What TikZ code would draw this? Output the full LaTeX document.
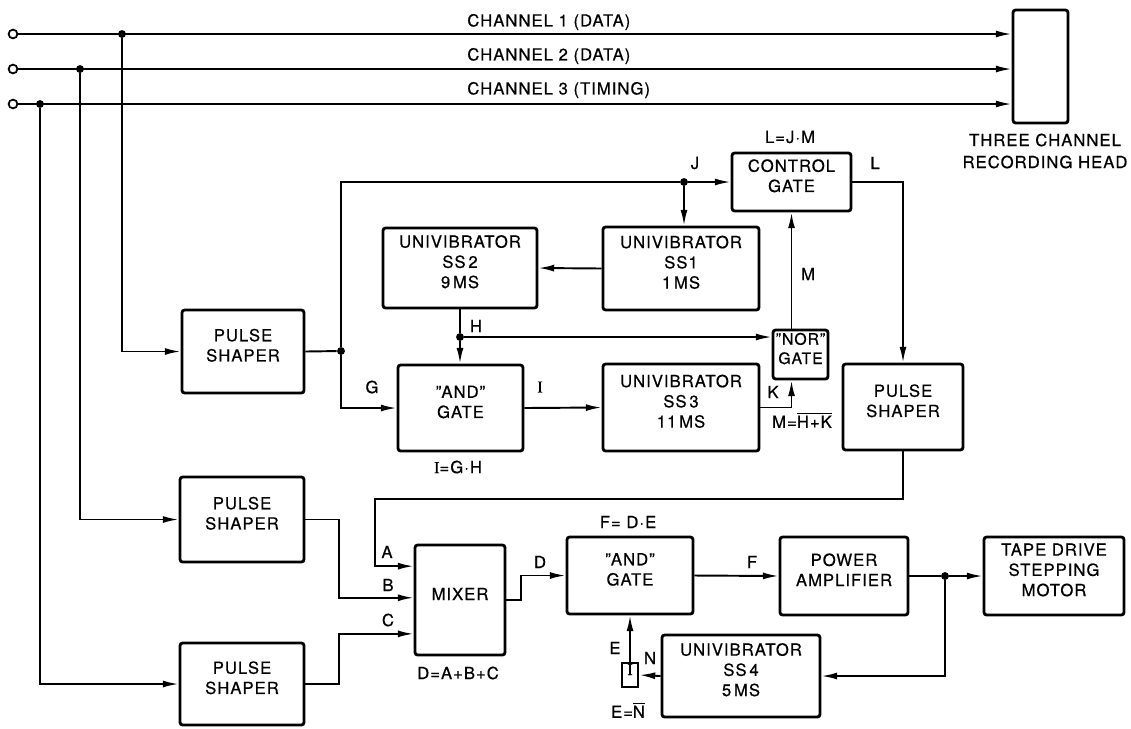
\documentclass[tikz,border=0pt]{standalone}
\usepackage{fontspec}
\setmainfont{TeX Gyre Heros}[LetterSpace=6,FakeBold=0.6]
\newfontfamily\serifI{Liberation Serif}[FakeBold=0.6]
\usetikzlibrary{arrows.meta,fit,calc}
\begin{document}
\begin{tikzpicture}[x=0.02cm,y=-0.02cm,
  font=\fontsize{9.5}{11.5}\selectfont,
  box/.style={draw, line width=1.6pt, rounded corners=1.5pt, inner sep=0pt, align=center},
  wire/.style={line width=1.1pt},
  arr/.style={wire, -{Latex[length=9pt,width=4pt]}},
  dot/.style={circle, fill, inner sep=0pt, minimum size=4.5pt},
  port/.style={circle, draw, line width=1pt, fill=white, inner sep=0pt, minimum size=5pt},
  lbl/.style={inner sep=0pt}]
\useasboundingbox (0,0) rectangle (1131,728);

% ---------- boxes ----------
\node[box, fit={(1013,10)(1068,123)}] (head) {};
\node[box, fit={(182,310)(304,393)}] (ps1) {PULSE\\SHAPER};
\node[box, fit={(180,477)(304,562)}] (ps2) {PULSE\\SHAPER};
\node[box, fit={(180,643)(304,725)}] (ps3) {PULSE\\SHAPER};
\node[box, fit={(843,364)(963,450)}] (ps4) {PULSE\\SHAPER};
\node[box, fit={(383,228)(537,308)}] (ss2) {UNIVIBRATOR\\SS\,2\\9\,MS};
\node[box, fit={(603,227)(759,310)}] (ss1) {UNIVIBRATOR\\SS1\\1\,MS};
\node[box, fit={(732,153)(851,211)}] (cg) {CONTROL\\GATE};
\node[box, fit={(773,330)(828,379)}, font=\fontsize{9}{11}\selectfont] (nor) {"NOR"\\GATE};
\node[box, fit={(398,365)(523,451)}] (and1) {"AND"\\GATE};
\node[box, fit={(603,364)(759,451)}] (ss3) {UNIVIBRATOR\\SS\,3\\11\,MS};
\node[box, fit={(415,545)(505,655)}] (mixer) {MIXER};
\node[box, fit={(567,537)(693,614)}] (and2) {"AND"\\GATE};
\node[box, fit={(780,537)(908,615)}] (pa) {POWER\\AMPLIFIER};
\node[box, fit={(984,537)(1124,615)}] (td) {TAPE DRIVE\\STEPPING\\MOTOR};
\node[box, fit={(662,635)(820,717)}] (ss4) {UNIVIBRATOR\\SS\,4\\5\,MS};
\node[box, line width=1.6pt, rounded corners=0pt, fit={(622,663)(638,687)}] (inv) {\serifI I};

% ---------- ports and junctions ----------
\node[port] (in1) at (13,34) {};
\node[port] (in2) at (13,69) {};
\node[port] (in3) at (13,104) {};
\node[dot] (j1) at (122,34) {};
\node[dot] (j2) at (80,69) {};
\node[dot] (j3) at (40,104) {};
\node[dot] (jg) at (341,351) {};
\node[dot] (jJ) at (684,182) {};
\node[dot] (jH) at (460,337) {};
\node[dot] (jT) at (945,576) {};

\coordinate (mA) at ($(mixer.north west)!0.2!(mixer.south west)$);
\coordinate (mB) at ($(mixer.north west)!0.48!(mixer.south west)$);
\coordinate (mC) at ($(mixer.north west)!0.8!(mixer.south west)$);

% ---------- channels ----------
\draw[arr] (in1.east) -- (in1 -| head.west);
\draw[arr] (in2.east) -- (in2 -| head.west);
\draw[arr] (in3.east) -- (in3 -| head.west);
\draw[arr] (j1) |- (ps1.west);
\draw[arr] (j2) |- (ps2.west);
\draw[arr] (j3) |- (ps3.west);

% ---------- upper logic ----------
\draw[wire] (ps1.east) -- (jg);
\draw[wire] (jg) |- (jJ);
\draw[arr] (jJ) -- (jJ -| cg.west);
\draw[arr] (jJ) -- (jJ |- ss1.north);
\draw[arr] (jg) |- (and1.west);
\draw[arr] (ss1.west) -- (ss2.east);
\draw[wire] (ss2.south) -- (jH);
\draw[arr] (jH) -- (jH |- and1.north);
\draw[arr] (jH) -- (jH -| nor.west);
\draw[arr] (and1.east) -- (ss3.west);
\draw[arr] (ss3.east) -| (nor.south -| cg.south);
\draw[arr] (nor.north -| cg.south) -- (cg.south);
\draw[arr] (cg.east) -| (ps4.north);

% ---------- lower logic ----------
\draw[arr] (ps4.south) |- (375,499) |- (mA);
\draw[arr] (ps2.east) -| ($(mB)+(-75,0)$) -- (mB);
\draw[arr] (ps3.east) -| ($(mC)+(-75,0)$) -- (mC);
\draw[arr] (mixer.east) -- ++(15,0) |- (and2.west);
\draw[arr] (and2.east) -- (pa.west);
\draw[wire] (pa.east) -- (jT);
\draw[arr] (jT) -- (td.west);
\draw[arr] (jT) |- (ss4.east);
\draw[arr] (ss4.west) -- (inv.east);
\draw[arr] (inv.north) -- (and2.south -| inv.north);

% ---------- labels ----------
\node[lbl, anchor=west] (t1) at (467,22) {CHANNEL 1 (DATA)};
\node[lbl, anchor=west] (t2) at (467,56) {CHANNEL 2 (DATA)};
\node[lbl, anchor=west] (t3) at (467,90) {CHANNEL 3 (TIMING)};
\node[lbl, align=center] (thd) at (1045,151) {THREE CHANNEL\\[1pt]RECORDING HEAD};
\node[lbl] (lL) at (790,137) {L=J·M};
\node[lbl] (lJ) at (695,163) {J};
\node[lbl] (lLL) at (875,163) {L};
\node[lbl] (lM) at (808,274) {M};
\node[lbl] (lH) at (476,326) {H};
\node[lbl] (lG) at (372,387) {G};
\node[lbl] (lI) at (540,387) {\serifI I};
\node[lbl] (lK) at (773,392) {K};
\node[lbl] (lMe) at (802,420) {M=$\overline{\mbox{H+K}}$};
\node[lbl] (lIe) at (458,467) {{\serifI I}=G·H};
\node[lbl] (lA) at (387,552) {A};
\node[lbl] (lB) at (388,585) {B};
\node[lbl] (lC) at (388,620) {C};
\node[lbl] (lDe) at (458,673) {D=A+B+C};
\node[lbl] (lD) at (540,562) {D};
\node[lbl] (lFe) at (628,522) {F= D·E};
\node[lbl] (lF) at (752,562) {F};
\node[lbl] (lE) at (615,648) {E};
\node[lbl] (lN) at (650,658) {N};
\node[lbl] (lEe) at (628,710) {E=$\overline{\mbox{N}}$};
\end{tikzpicture}
\end{document}
